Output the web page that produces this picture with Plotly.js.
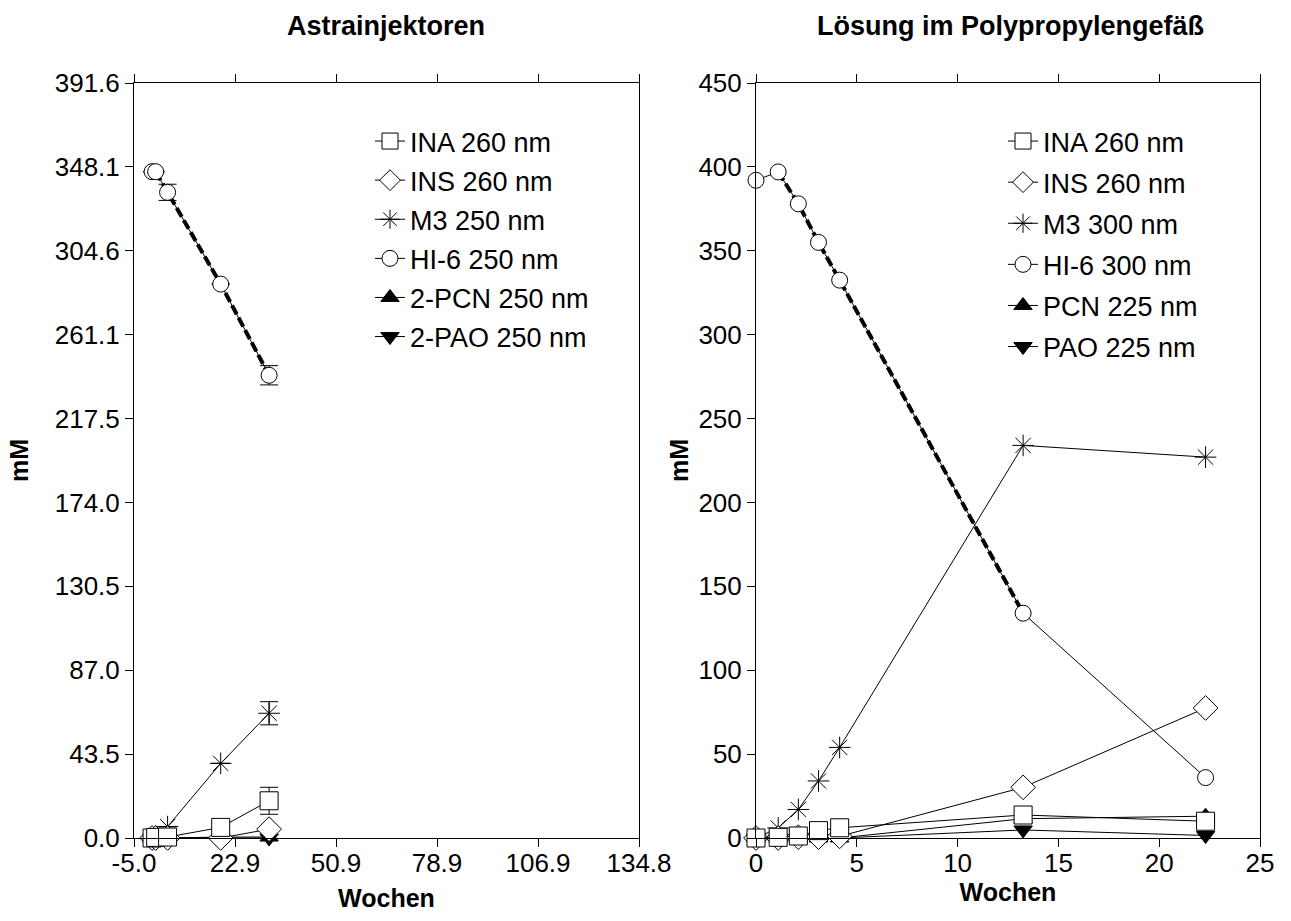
<!DOCTYPE html>
<html>
<head>
<meta charset="utf-8">
<script src="https://cdn.plot.ly/plotly-3.0.1.min.js"></script>
<style>
  html, body { margin: 0; padding: 0; background: #ffffff; }
  #chart { width: 1291px; height: 921px; }
</style>
</head>
<body>
<div id="chart"></div>
<script>
// ---- Astrainjektoren (left panel) ----
const leftWeeks = [0, 1, 4.3, 19, 32.4];
const leftINA = [0, 0.3, 0.5, 5.5, 19.3];
const leftINAErr = [0, 0, 0, 0, 7];
const leftINS = [0, 0, 0, 0, 4.6];
const leftM3 = [0, 1, 5.9, 38.7, 64.7];
const leftM3Err = [0, 0, 0, 0, 6];
const leftHI6 = [345.6, 345.6, 334.9, 287.3, 240];
const leftHI6Err = [0, 0, 4.2, 0, 5];
const leftPCN = [0, 0, 0, 0.5, 0.5];
const leftPAO = [0, 0, 0, 0, 0];
const leftLabels = ['INA 260 nm', 'INS 260 nm', 'M3 250 nm', 'HI-6 250 nm', '2-PCN 250 nm', '2-PAO 250 nm'];

const leftXTickVals = [-5, 22.96, 50.92, 78.88, 106.84, 134.8];
const leftXTickText = ['-5.0', '22.9', '50.9', '78.9', '106.9', '134.8'];
const leftYTickVals = [0, 43.51, 87.02, 130.53, 174.04, 217.56, 261.07, 304.58, 348.09, 391.6];
const leftYTickText = ['0.0', '43.5', '87.0', '130.5', '174.0', '217.5', '261.1', '304.6', '348.1', '391.6'];

// ---- Lösung im Polypropylengefäß (right panel) ----
const rightWeeks = [0, 1.1, 2.1, 3.1, 4.15, 13.25, 22.3];
const rightINA = [0, 0.4, 1.2, 4.4, 6.1, 13.7, 10];
const rightINS = [0, 0, 0.5, 0.5, 1, 30.2, 77.5];
const rightM3 = [0, 6, 17, 34, 54, 234, 227];
const rightHI6 = [392, 397, 378, 355, 332.5, 134, 36];
const rightPCN = [0, 0, 0, 0, 0, 11.5, 13];
const rightPAO = [0, 0, 0, 0, 0, 4.8, 1.5];
const rightLabels = ['INA 260 nm', 'INS 260 nm', 'M3 300 nm', 'HI-6 300 nm', 'PCN 225 nm', 'PAO 225 nm'];

const rightXTickVals = [0, 5, 10, 15, 20, 25];
const rightYTickVals = [0, 50, 100, 150, 200, 250, 300, 350, 400, 450];

// Marker styles shared by both panels (index = legend position)
const styles = [
  { symbol: 'square', size: 18, color: '#ffffff', line: { color: '#000000', width: 1 } },
  { symbol: 'diamond', size: 19, color: '#ffffff', line: { color: '#000000', width: 1 } },
  { symbol: 'asterisk-open', size: 18, color: '#000000', line: { color: '#000000', width: 1 } },
  { symbol: 'circle', size: 16, color: '#ffffff', line: { color: '#000000', width: 1 } },
  { symbol: 'triangle-up', size: 16, color: '#000000', line: { color: '#000000', width: 1 } },
  { symbol: 'triangle-down', size: 16, color: '#000000', line: { color: '#000000', width: 1 } }
];

function series(x, y, idx, label, xa, ya, legend, err) {
  const t = {
    type: 'scatter', mode: 'lines+markers',
    x: x, y: y, name: label,
    xaxis: xa, yaxis: ya, legend: legend,
    legendgroup: legend + '-' + idx, legendrank: 100 + idx,
    line: { color: '#000000', width: 1 },
    marker: styles[idx],
    cliponaxis: false
  };
  if (err) {
    t.error_y = { type: 'data', array: err, visible: true, color: '#000000', thickness: 1, width: 9 };
  }
  return t;
}

function trend(x, y, xa, ya, legend) {
  return {
    type: 'scatter', mode: 'lines', x: x, y: y,
    xaxis: xa, yaxis: ya, legend: legend, showlegend: false, hoverinfo: 'skip',
    line: { color: '#000000', width: 4, dash: '10px,4px' }
  };
}

// INA is drawn last so its squares sit on top of the others near zero
const data = [
  trend(leftWeeks.slice(1), leftHI6.slice(1), 'x', 'y', 'legend'),
  series(leftWeeks, leftPAO, 5, leftLabels[5], 'x', 'y', 'legend'),
  series(leftWeeks, leftPCN, 4, leftLabels[4], 'x', 'y', 'legend'),
  series(leftWeeks, leftHI6, 3, leftLabels[3], 'x', 'y', 'legend', leftHI6Err),
  series(leftWeeks, leftM3, 2, leftLabels[2], 'x', 'y', 'legend', leftM3Err),
  series(leftWeeks, leftINS, 1, leftLabels[1], 'x', 'y', 'legend'),
  series(leftWeeks, leftINA, 0, leftLabels[0], 'x', 'y', 'legend', leftINAErr),

  trend(rightWeeks.slice(1, 6), rightHI6.slice(1, 6), 'x2', 'y2', 'legend2'),
  series(rightWeeks, rightPAO, 5, rightLabels[5], 'x2', 'y2', 'legend2'),
  series(rightWeeks, rightPCN, 4, rightLabels[4], 'x2', 'y2', 'legend2'),
  series(rightWeeks, rightHI6, 3, rightLabels[3], 'x2', 'y2', 'legend2'),
  series(rightWeeks, rightM3, 2, rightLabels[2], 'x2', 'y2', 'legend2'),
  series(rightWeeks, rightINS, 1, rightLabels[1], 'x2', 'y2', 'legend2'),
  series(rightWeeks, rightINA, 0, rightLabels[0], 'x2', 'y2', 'legend2')
];

const FONT = 'Liberation Sans, Arial, Helvetica, sans-serif';
const tickFont = { family: FONT, size: 26, color: '#000000' };
const titleFont = { family: FONT, size: 25, color: '#000000', weight: 'bold' };

const W = 1291, H = 921;
const yDom = [(H - 838) / H, (H - 83) / H];

function xAxis(domain, range, vals, text, anchor, standoff) {
  const a = {
    domain: domain, range: range, anchor: anchor,
    showline: true, linecolor: '#000000', linewidth: 1, mirror: 'ticks',
    ticks: 'outside', ticklen: 8, tickwidth: 1, tickcolor: '#000000',
    tickmode: 'array', tickvals: vals, ticklabelstandoff: -6,
    tickfont: tickFont, showgrid: false, zeroline: false,
    title: { text: 'Wochen', font: titleFont, standoff: standoff }
  };
  if (text) a.ticktext = text;
  return a;
}

function yAxis(range, vals, text, anchor, standoff) {
  const a = {
    domain: yDom, range: range, anchor: anchor,
    showline: true, linecolor: '#000000', linewidth: 1, mirror: true,
    ticks: 'outside', ticklen: 8, tickwidth: 1, tickcolor: '#000000',
    tickmode: 'array', tickvals: vals,
    tickfont: tickFont, showgrid: false, zeroline: false,
    title: { text: 'mM', font: titleFont, standoff: standoff }
  };
  if (text) a.ticktext = text;
  return a;
}

// right-hand frame ticks point into the plot
function innerRightAxis(range, vals, anchor, over) {
  return {
    domain: yDom, range: range, anchor: anchor, overlaying: over, side: 'right',
    showline: false, ticks: 'inside', ticklen: 8, tickwidth: 1, tickcolor: '#000000',
    tickmode: 'array', tickvals: vals, showticklabels: false,
    showgrid: false, zeroline: false
  };
}

const legendBase = {
  xanchor: 'left', yanchor: 'top',
  bgcolor: 'rgba(0,0,0,0)', borderwidth: 0,
  font: { family: FONT, size: 27, color: '#000000' },
  traceorder: 'grouped', itemclick: false, itemdoubleclick: false
};

const layout = {
  width: W, height: H,
  margin: { l: 0, r: 0, t: 0, b: 0 },
  paper_bgcolor: '#ffffff', plot_bgcolor: '#ffffff',
  font: { family: FONT, color: '#000000' },
  showlegend: true,
  xaxis: xAxis([134 / W, 639 / W], [-5, 134.8], leftXTickVals, leftXTickText, 'y', 12),
  yaxis: yAxis([0, 391.6], leftYTickVals, leftYTickText, 'x', 18),
  yaxis3: innerRightAxis([0, 391.6], leftYTickVals, 'x', 'y'),
  xaxis2: xAxis([756 / W, 1260 / W], [0, 25], rightXTickVals, null, 'y2', 4),
  yaxis2: yAxis([0, 450], rightYTickVals, null, 'x2', 2),
  yaxis4: innerRightAxis([0, 450], rightYTickVals, 'x2', 'y2'),
  legend: Object.assign({}, legendBase, { x: 370 / W, y: 1 - 117 / H, tracegroupgap: 1 }),
  legend2: Object.assign({}, legendBase, { x: 1003 / W, y: 1 - 117 / H, tracegroupgap: 3 }),
  annotations: [
    { text: 'Astrainjektoren', x: 386 / W, y: 1 - 26 / H, xref: 'paper', yref: 'paper',
      xanchor: 'center', yanchor: 'middle', showarrow: false,
      font: { family: FONT, size: 27, color: '#000000', weight: 'bold' } },
    { text: 'Lösung im Polypropylengefäß', x: 1010 / W, y: 1 - 26 / H, xref: 'paper', yref: 'paper',
      xanchor: 'center', yanchor: 'middle', showarrow: false,
      font: { family: FONT, size: 27, color: '#000000', weight: 'bold' } }
  ]
};

Plotly.newPlot('chart', data, layout, { displayModeBar: false, staticPlot: true });
</script>
</body>
</html>
